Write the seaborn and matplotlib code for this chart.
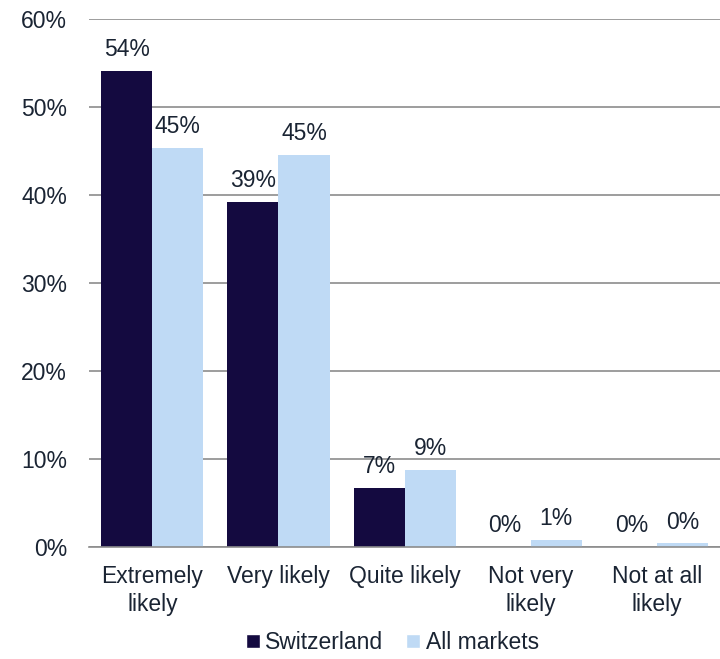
import pandas as pd
import matplotlib.pyplot as plt
import seaborn as sns
from matplotlib.patches import Patch

categories = ["Extremely\nlikely", "Very likely", "Quite likely", "Not very\nlikely", "Not at all\nlikely"]
switzerland = [54.1, 39.2, 6.7, 0.0, 0.0]
all_markets = [45.4, 44.6, 8.8, 0.8, 0.4]
series = ["Switzerland", "All markets"]
colors = ["#140A40", "#BFDAF5"]
text_color = "#1A2433"

df = pd.DataFrame({
    "category": categories * 2,
    "value": switzerland + all_markets,
    "series": [series[0]] * len(categories) + [series[1]] * len(categories),
})

sns.set_style("white")
plt.rcParams['font.family'] = ['Liberation Sans', 'DejaVu Sans']
plt.rcParams['text.color'] = text_color
fs = 16.5

fig = plt.figure(figsize=(7.2, 6.59), dpi=100)
ax = fig.add_axes([0.124, 0.17, 0.876, 0.801])

sns.barplot(data=df, x="category", y="value", hue="series", order=categories,
            hue_order=series, palette=colors, width=0.81, saturation=1,
            linewidth=0, ax=ax, legend=False)

ax.set_ylim(0, 60)
ax.set_xlim(-0.5, 4.5)
ax.set_yticks(range(0, 61, 10))
ax.set_yticklabels([f"{t}%" for t in range(0, 61, 10)])
ax.yaxis.grid(True, color="#8C8C8C", linewidth=1.2)
ax.set_axisbelow(True)
ax.tick_params(axis="both", length=0, labelsize=fs, colors=text_color)
ax.tick_params(axis="y", pad=16)
ax.tick_params(axis="x", pad=13)
for lbl in ax.get_xticklabels():
    lbl.set_linespacing(1.3)
ax.set_xlabel("")
ax.set_ylabel("")
for s in ["top", "right", "left"]:
    ax.spines[s].set_visible(False)
ax.spines["bottom"].set_color("#8C8C8C")
ax.spines["bottom"].set_linewidth(1.2)

for container in ax.containers:
    for bar in container:
        h = bar.get_height()
        ax.annotate(f"{h:.0f}%", (bar.get_x() + bar.get_width() / 2, h),
                    xytext=(0, 7), textcoords="offset points",
                    ha="center", va="bottom", fontsize=fs, color=text_color)

handles = [Patch(facecolor=c, label=s) for c, s in zip(colors, series)]
fig.legend(handles=handles, loc="center", bbox_to_anchor=(0.545, 0.025), ncol=2,
           frameon=False, fontsize=fs, handlelength=0.6, handleheight=0.6,
           handletextpad=0.25, columnspacing=1.0)

plt.savefig("out.png", dpi=100)
